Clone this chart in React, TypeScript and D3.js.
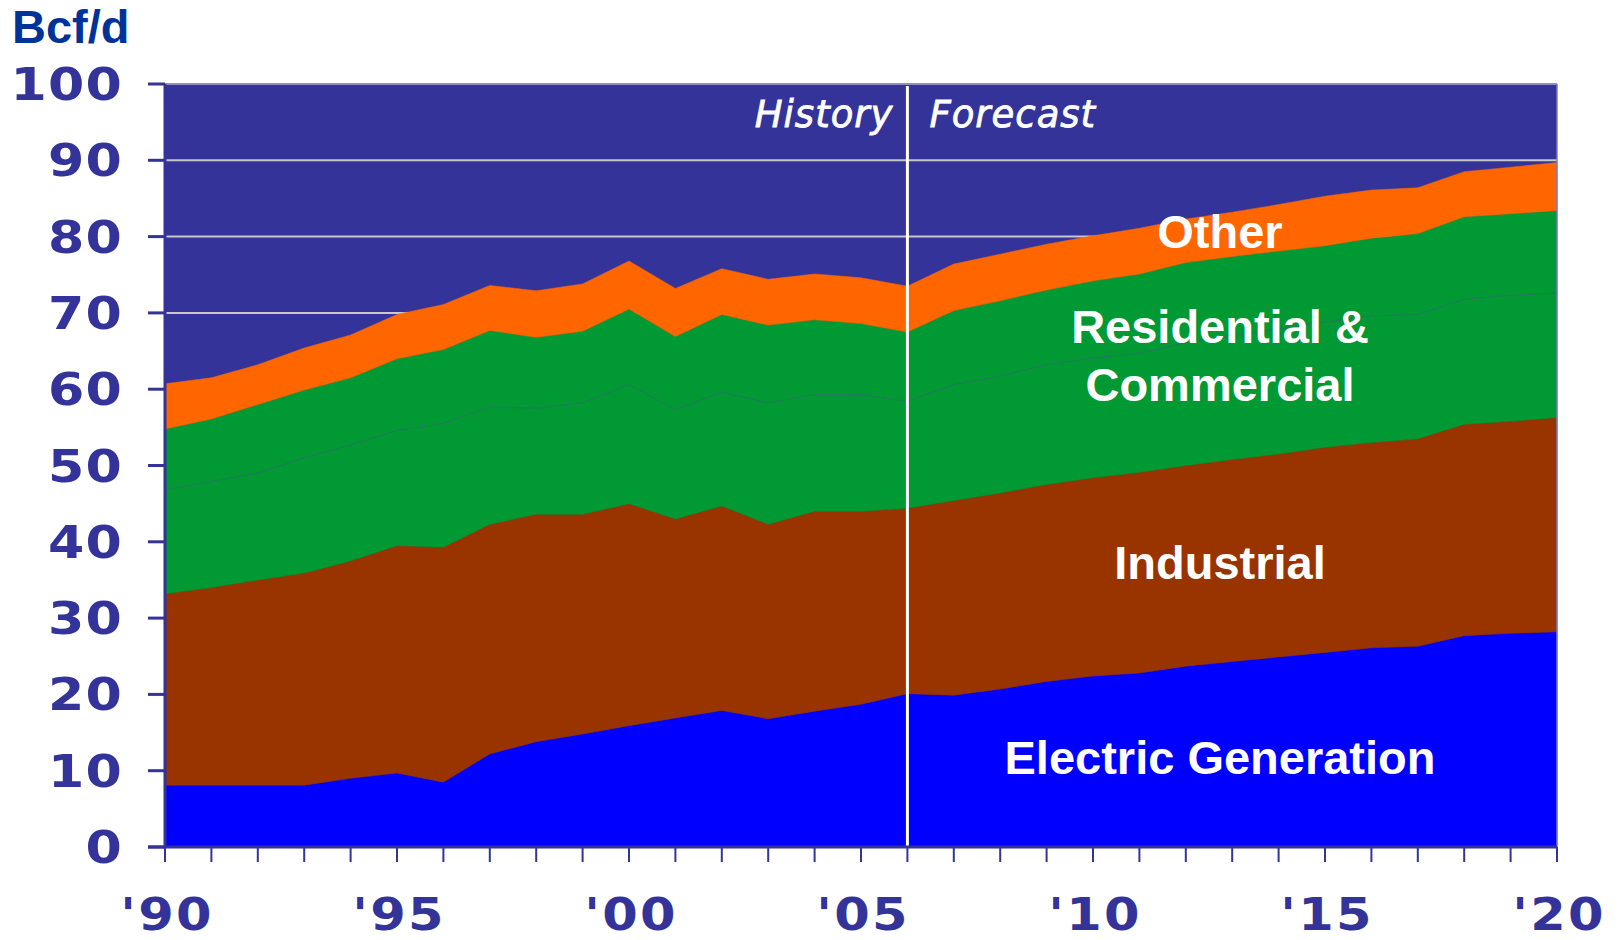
import { useEffect, useRef } from "react";
import * as d3 from "d3";

////
// data, Bcf/d
const years = d3.range(1990, 2021);
const electric = [
  8.1, 8.1, 8.1, 8.1, 9.0, 9.7, 8.5, 12.2, 13.8, 14.8, 15.9, 16.9, 17.9, 16.8, 17.8, 18.7,
  20.1, 19.9, 20.7, 21.7, 22.4, 22.8, 23.7, 24.3, 24.9, 25.5, 26.1, 26.3, 27.7, 28.0, 28.2,
];
const industrial = [
  25.1, 25.9, 26.9, 27.8, 28.5, 29.8, 30.8, 30.1, 29.8, 28.8, 29.1, 26.1, 26.8, 25.5, 26.2, 25.3,
  24.3, 25.5, 25.7, 25.8, 26.0, 26.3, 26.3, 26.5, 26.6, 26.9, 26.9, 27.2, 27.7, 27.8, 28.1,
];
const residential = [
  13.6, 13.9, 14.0, 15.1, 15.2, 15.1, 16.2, 15.4, 13.9, 14.6, 15.6, 14.3, 14.9, 15.9, 15.3, 15.3,
  14.0, 15.2, 15.3, 15.7, 15.7, 15.6, 16.1, 16.2, 16.4, 16.4, 16.6, 16.3, 16.4, 16.5, 16.3,
];
const commercial = [
  8.0, 8.2, 9.0, 8.9, 8.8, 9.4, 9.7, 10.0, 9.3, 9.4, 9.9, 9.6, 10.2, 10.2, 9.8, 9.3,
  9.1, 9.7, 9.9, 9.8, 10.1, 10.4, 10.5, 10.4, 10.2, 10.0, 10.2, 10.6, 10.8, 10.7, 10.8,
];
const other = [
  5.9, 5.4, 5.2, 5.5, 5.6, 5.8, 5.9, 5.9, 6.1, 6.2, 6.3, 6.3, 6.0, 6.0, 6.0, 6.0,
  6.0, 6.1, 6.1, 6.0, 5.9, 6.0, 5.7, 5.8, 6.1, 6.5, 6.3, 6.0, 5.9, 6.1, 6.3,
];
const seriesKeys = ["electric", "industrial", "residential", "commercial", "other"];
const seriesColors = ["#0000ff", "#993300", "#009933", "#009933", "#ff6600"];
const yTicks = [0, 10, 20, 30, 40, 50, 60, 70, 80, 90, 100];
const xLabelYears = [1990, 1995, 2000, 2005, 2010, 2015, 2020];
const gridValues = [70, 80, 90];
const splitYear = 2006;
const areaLabels = [
  { lines: ["Other"], y: 248 },
  { lines: ["Residential &", "Commercial"], y: 343 },
  { lines: ["Industrial"], y: 579 },
  { lines: ["Electric Generation"], y: 774 },
];

////
const W = 1619;
const H = 940;
const M = { left: 165, right: 62, top: 84, bottom: 93 };
const AXIS = "#333399";
// tick label glyphs are wider than DejaVu's, stretch them a bit
const STRETCH = 1.16;

const App = () => {
  const ref = useRef<SVGSVGElement>(null);

  useEffect(() => {
    const svg = d3.select(ref.current);
    svg.selectAll("*").remove();
    //
    const x = d3.scaleLinear().domain([1990, 2020]).range([M.left, W - M.right]);
    const y = d3.scaleLinear().domain([0, 100]).range([H - M.bottom, M.top]);
    //
    const rows = years.map((yr, i) => ({
      year: yr,
      electric: electric[i],
      industrial: industrial[i],
      residential: residential[i],
      commercial: commercial[i],
      other: other[i],
    }));
    const stacked = d3.stack<any>().keys(seriesKeys)(rows);
    //
    // background
    svg
      .append("rect")
      .attr("x", x(1990))
      .attr("y", y(100))
      .attr("width", x(2020) - x(1990))
      .attr("height", y(0) - y(100))
      .attr("fill", "#333399");
    // grid
    svg
      .append("g")
      .selectAll("line")
      .data(gridValues)
      .join("line")
      .attr("x1", x(1990))
      .attr("x2", x(2020))
      .attr("y1", (d) => y(d))
      .attr("y2", (d) => y(d))
      .attr("stroke", "#c8c8c8")
      .attr("stroke-width", 2);
    //
    // areas
    const area = d3
      .area<any>()
      .x((d) => x(d.data.year))
      .y0((d) => y(d[0]))
      .y1((d) => y(d[1]));
    svg
      .append("g")
      .selectAll("path")
      .data(stacked)
      .join("path")
      .attr("d", area)
      .attr("fill", (_, i) => seriesColors[i])
      .attr("stroke", (_, i) => seriesColors[i])
      .attr("stroke-width", 0.5);
    // thin line between residential & commercial
    const line = d3
      .line<any>()
      .x((d) => x(d.data.year))
      .y((d) => y(d[1]));
    svg
      .append("path")
      .attr("d", line(stacked[2]))
      .attr("fill", "none")
      .attr("stroke", "#237a5c")
      .attr("stroke-width", 1);
    //
    // frame
    svg
      .append("line")
      .attr("x1", x(1990))
      .attr("x2", x(2020))
      .attr("y1", y(100))
      .attr("y2", y(100))
      .attr("stroke", "#8f8fc6")
      .attr("stroke-width", 2);
    svg
      .append("line")
      .attr("x1", x(2020))
      .attr("x2", x(2020))
      .attr("y1", y(100))
      .attr("y2", y(0))
      .attr("stroke", "#7a7ac8")
      .attr("stroke-width", 1.5);
    //
    // history / forecast split
    svg
      .append("line")
      .attr("x1", x(splitYear))
      .attr("x2", x(splitYear))
      .attr("y1", y(100) + 2)
      .attr("y2", y(0))
      .attr("stroke", "#ffffff")
      .attr("stroke-width", 3);
    const hf = [
      { t: "History", x: x(splitYear) - 14, anchor: "end" },
      { t: "Forecast", x: x(splitYear) + 22, anchor: "start" },
    ];
    svg
      .append("g")
      .selectAll("text")
      .data(hf)
      .join("text")
      .attr("x", (d) => d.x)
      .attr("y", 127)
      .attr("text-anchor", (d) => d.anchor)
      .attr("fill", "#ffffff")
      .attr("stroke", "#ffffff")
      .attr("stroke-width", 0.8)
      .attr("font-family", "DejaVu Sans")
      .attr("font-style", "italic")
      .attr("font-size", 37)
      .attr("letter-spacing", 1)
      .text((d) => d.t);
    //
    // y axis
    const yAxis = svg.append("g");
    yAxis
      .append("line")
      .attr("x1", x(1990))
      .attr("x2", x(1990))
      .attr("y1", y(100))
      .attr("y2", y(0))
      .attr("stroke", AXIS)
      .attr("stroke-width", 3);
    yAxis
      .selectAll("line.tick")
      .data(yTicks)
      .join("line")
      .attr("class", "tick")
      .attr("x1", x(1990) - 17)
      .attr("x2", x(1990))
      .attr("y1", (d) => y(d))
      .attr("y2", (d) => y(d))
      .attr("stroke", AXIS)
      .attr("stroke-width", 3);
    yAxis
      .selectAll("text")
      .data(yTicks)
      .join("text")
      .attr("transform", (d) => `translate(123, ${y(d) + 16}) scale(${STRETCH}, 1)`)
      .attr("text-anchor", "end")
      .attr("fill", AXIS)
      .attr("font-family", "DejaVu Sans")
      .attr("font-weight", "bold")
      .attr("font-size", 45)
      .attr("letter-spacing", 1)
      .text((d) => d);
    //
    // x axis
    const xAxis = svg.append("g");
    xAxis
      .append("line")
      .attr("x1", x(1990) - 17)
      .attr("x2", x(2020))
      .attr("y1", y(0))
      .attr("y2", y(0))
      .attr("stroke", AXIS)
      .attr("stroke-width", 3);
    xAxis
      .selectAll("line.tick")
      .data(years)
      .join("line")
      .attr("class", "tick")
      .attr("x1", (d) => x(d))
      .attr("x2", (d) => x(d))
      .attr("y1", y(0))
      .attr("y2", y(0) + 15)
      .attr("stroke", AXIS)
      .attr("stroke-width", 2);
    xAxis
      .selectAll("text")
      .data(xLabelYears)
      .join("text")
      .attr("transform", (d) => `translate(${x(d) + 2}, 930) scale(${STRETCH}, 1)`)
      .attr("text-anchor", "middle")
      .attr("fill", AXIS)
      .attr("font-family", "DejaVu Sans")
      .attr("font-weight", "bold")
      .attr("font-size", 44)
      .attr("letter-spacing", 2)
      .text((d) => "'" + String(d).slice(2));
    //
    // unit
    svg
      .append("text")
      .attr("x", 12)
      .attr("y", 43)
      .attr("fill", "#003399")
      .attr("font-family", "Liberation Sans")
      .attr("font-weight", "bold")
      .attr("font-size", 47)
      .text("Bcf/d");
    //
    // area labels
    const lbl = svg
      .append("g")
      .selectAll("text")
      .data(areaLabels)
      .join("text")
      .attr("x", 1220)
      .attr("y", (d) => d.y)
      .attr("text-anchor", "middle")
      .attr("fill", "#ffffff")
      .attr("font-family", "Liberation Sans")
      .attr("font-weight", "bold")
      .attr("font-size", 47);
    lbl
      .selectAll("tspan")
      .data((d) => d.lines)
      .join("tspan")
      .attr("x", 1220)
      .attr("dy", (_, i) => (i === 0 ? 0 : 58))
      .text((d) => d);
  }, []);

  return (
    <svg
      ref={ref}
      width={W}
      height={H}
      style={{ position: "absolute", left: 0, top: 0, background: "#ffffff" }}
    />
  );
};

export default App;
